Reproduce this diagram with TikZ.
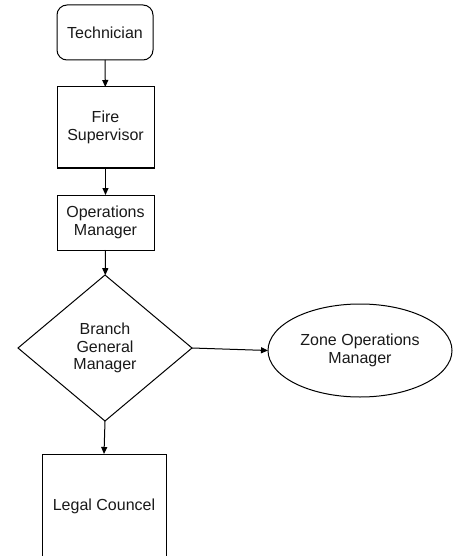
\documentclass[tikz,border=0pt]{standalone}
\usepackage{fontspec}
\setmainfont{Liberation Sans}
\usetikzlibrary{shapes.geometric,arrows.meta}
\begin{document}
\begin{tikzpicture}[x=1pt,y=-1pt,
  every node/.style={font=\fontsize{16}{17.5}\selectfont, align=center, inner sep=0pt, outer sep=0pt, draw=black, line width=1pt, text=black!90},
  rbox/.style={rectangle, rounded corners=10pt},
  sbox/.style={rectangle},
  dbox/.style={diamond},
  ebox/.style={ellipse},
  conn/.style={draw=black, line width=1pt, -{Triangle[length=7pt,width=6pt]}}]
\useasboundingbox (0,0) rectangle (453,556);
\clip (0,0) rectangle (453,556);
\node[rbox, minimum width=96pt, minimum height=55pt] (tech) at (105,32.5) {Technician};
\node[sbox, minimum width=97pt, minimum height=81pt] (fire) at (105.5,127.5) {Fire\\Supervisor};
\node[sbox, minimum width=97pt, minimum height=55pt] (ops) at (105.5,222.5) {Operations\\Manager};
\node[dbox, minimum width=174pt, minimum height=146pt] (bgm) at (105,348) {Branch\\General\\Manager};
\node[ebox, minimum width=184pt, minimum height=93pt] (zone) at (360,350.5) {Zone Operations\\Manager};
\node[sbox, minimum width=124pt, minimum height=104pt] (legal) at (104,506) {Legal Councel};
\draw[conn] (tech) -- (fire);
\draw[conn] (fire) -- (ops);
\draw[conn] (ops) -- (bgm);
\draw[conn] (bgm.east) -- (zone.west);
\draw[conn] (bgm.south) -- (legal.north);
\end{tikzpicture}
\end{document}
